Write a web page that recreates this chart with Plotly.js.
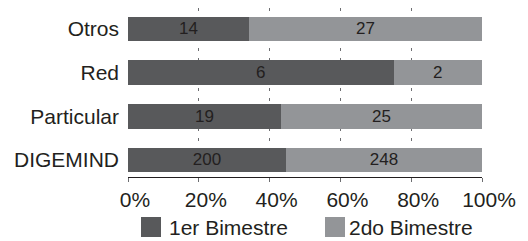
<!DOCTYPE html>
<html>
<head>
<meta charset="utf-8">
<script src="https://cdn.plot.ly/plotly-3.0.1.min.js"></script>
<style>html,body{margin:0;padding:0;background:#fff;}#chart{width:528px;height:241px;}</style>
</head>
<body>
<div id="chart"></div>
<script>
const categories = ["Otros", "Red", "Particular", "DIGEMIND"];
const seriesNames = ["1er Bimestre", "2do Bimestre"];
const bim1 = [14, 6, 19, 200];
const bim2 = [27, 2, 25, 248];
const tickValues = [0, 20, 40, 60, 80, 100];
const tickLabels = ["0%", "20%", "40%", "60%", "80%", "100%"];
const colors = ["#58595b", "#939598"];

const FONT = "Liberation Sans, Arial, sans-serif";
const TXT = "#231f20";

function barTrace(name, vals, color) {
  return {
    type: "bar", orientation: "h", name: name,
    y: categories, x: vals, text: vals.map(String),
    textposition: "inside", insidetextanchor: "middle", textangle: 0,
    constraintext: "none",
    insidetextfont: {family: FONT, size: 17, color: TXT},
    marker: {color: color, line: {width: 0}},
    hoverinfo: "skip", showlegend: false
  };
}

const data = [barTrace(seriesNames[0], bim1, colors[0]), barTrace(seriesNames[1], bim2, colors[1])];

// legend drawn manually (paper coords)
const plotL = 128, plotR = 482, plotT = 8, plotB = 177;
const W = plotR - plotL, H = plotB - plotT;
const px = v => (v - plotL) / W;
const py = v => (plotB - v) / H;
const legendItems = [
  {sq: [141, 161], tx: 168},
  {sq: [325, 345], tx: 348}
];
const legY = 227;
const shapes = legendItems.map((it, i) => ({
  type: "rect", xref: "paper", yref: "paper",
  x0: px(it.sq[0]), x1: px(it.sq[1]), y0: py(legY + 10), y1: py(legY - 10),
  fillcolor: colors[i], line: {width: 0}
}));
const annotations = legendItems.map((it, i) => ({
  xref: "paper", yref: "paper", x: px(it.tx), y: py(legY),
  xanchor: "left", yanchor: "middle", showarrow: false,
  text: seriesNames[i], font: {family: FONT, size: 21, color: TXT},
  borderpad: 0
}));

const layout = {
  width: 528, height: 241, autosize: false,
  margin: {l: plotL, r: 528 - plotR, t: plotT, b: 241 - plotB, pad: 0},
  paper_bgcolor: "#fff", plot_bgcolor: "#fff",
  barmode: "stack", barnorm: "percent", bargap: 0.44,
  font: {family: FONT, size: 21, color: TXT},
  xaxis: {
    range: [0, 100], tickvals: tickValues, ticktext: tickLabels,
    showgrid: true, gridcolor: "#6d6e71", gridwidth: 1, griddash: "3px,7px",
    showline: true, linecolor: "#231f20", linewidth: 1,
    ticks: "outside", ticklen: 4, tickcolor: "#6d6e71", tickwidth: 1,
    tickfont: {family: FONT, size: 21, color: TXT},
    ticklabelshift: 7, ticklabelstandoff: 0,
    zeroline: false, fixedrange: true
  },
  yaxis: {
    type: "category", categoryorder: "array", categoryarray: categories,
    range: [3.39, -0.48],
    showgrid: false, showline: false, ticks: "", zeroline: false,
    tickfont: {family: FONT, size: 21, color: TXT},
    ticklabelstandoff: 8, fixedrange: true
  },
  shapes: shapes,
  annotations: annotations,
  showlegend: false
};

Plotly.newPlot("chart", data, layout, {displayModeBar: false, staticPlot: true});
</script>
</body>
</html>
